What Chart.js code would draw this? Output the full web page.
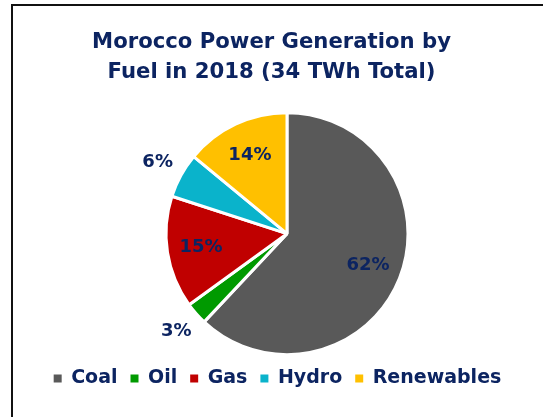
<!DOCTYPE html>
<html>
<head>
<meta charset="utf-8">
<script src="https://cdn.jsdelivr.net/npm/chart.js@4.4.1/dist/chart.umd.min.js"></script>
<style>
  html, body { margin: 0; padding: 0; background: #fff; overflow: hidden; }
  #frame { position: absolute; left: 11px; top: 4px; width: 600px; height: 500px; border: 2px solid #111; box-sizing: border-box; }
  #wrap { position: absolute; left: 0; top: 0; width: 543px; height: 417px; }
</style>
</head>
<body>
<div id="frame"></div>
<div id="wrap"><canvas id="c" width="543" height="417"></canvas></div>
<script>
const categories = ["Coal", "Oil", "Gas", "Hydro", "Renewables"];
const shares = [62, 3, 15, 6, 14];
const valueLabels = ["62%", "3%", "15%", "6%", "14%"];
const colors = ["#595959", "#009a00", "#c00000", "#0ab3cb", "#ffc000"];
const titleLines = ["Morocco Power Generation by", "Fuel in 2018 (34 TWh Total)"];

const NAVY = "#0c2461";
const FONT = "'DejaVu Sans', Verdana, sans-serif";

// shift the pie right/down and the legend slightly right, as in the original layout
const shiftPlugin = {
  id: 'shift',
  afterLayout(chart) {
    const a = chart.chartArea;
    a.left += 31;
    a.top += 12;
    a.width = a.right - a.left;
    a.height = a.bottom - a.top;
    chart.legend.left += 6;
    chart.legend.right += 6;
  }
};

const labelPlugin = {
  id: 'sliceLabels',
  afterDatasetsDraw(chart) {
    const ctx = chart.ctx;
    const meta = chart.getDatasetMeta(0);
    ctx.save();
    ctx.font = "bold 18px " + FONT;
    ctx.fillStyle = NAVY;
    ctx.textAlign = 'center';
    ctx.textBaseline = 'middle';
    meta.data.forEach((arc, i) => {
      const p = arc.getProps(['x', 'y', 'startAngle', 'endAngle', 'outerRadius'], true);
      const mid = (p.startAngle + p.endAngle) / 2;
      const f = shares[i] < 10 ? 1.22 : 0.72;
      const x = p.x + Math.cos(mid) * p.outerRadius * f;
      const y = p.y + Math.sin(mid) * p.outerRadius * f;
      ctx.fillText(valueLabels[i], x, y);
    });
    ctx.restore();
  }
};

new Chart(document.getElementById('c'), {
  type: 'pie',
  data: {
    labels: categories,
    datasets: [{
      data: shares,
      backgroundColor: colors,
      borderColor: '#ffffff',
      borderWidth: 3
    }]
  },
  options: {
    responsive: false,
    animation: false,
    radius: 121,
    layout: { padding: { left: 0, right: 0, top: 0, bottom: 19 } },
    plugins: {
      title: {
        display: true,
        text: titleLines,
        color: NAVY,
        font: { family: FONT, size: 21.2, weight: 'bold', lineHeight: 1.4 },
        padding: { top: 28, bottom: 12 }
      },
      legend: {
        position: 'bottom',
        labels: {
          color: NAVY,
          font: { family: FONT, size: 19, weight: 'bold' },
          boxWidth: 8,
          boxHeight: 8,
          padding: 13,
          generateLabels(chart) {
            return categories.map((name, i) => ({
              text: name,
              fillStyle: colors[i],
              strokeStyle: colors[i],
              lineWidth: 0,
              fontColor: NAVY,
              hidden: false,
              index: i
            }));
          }
        }
      },
      tooltip: { enabled: false }
    }
  },
  plugins: [shiftPlugin, labelPlugin]
});
</script>
</body>
</html>
